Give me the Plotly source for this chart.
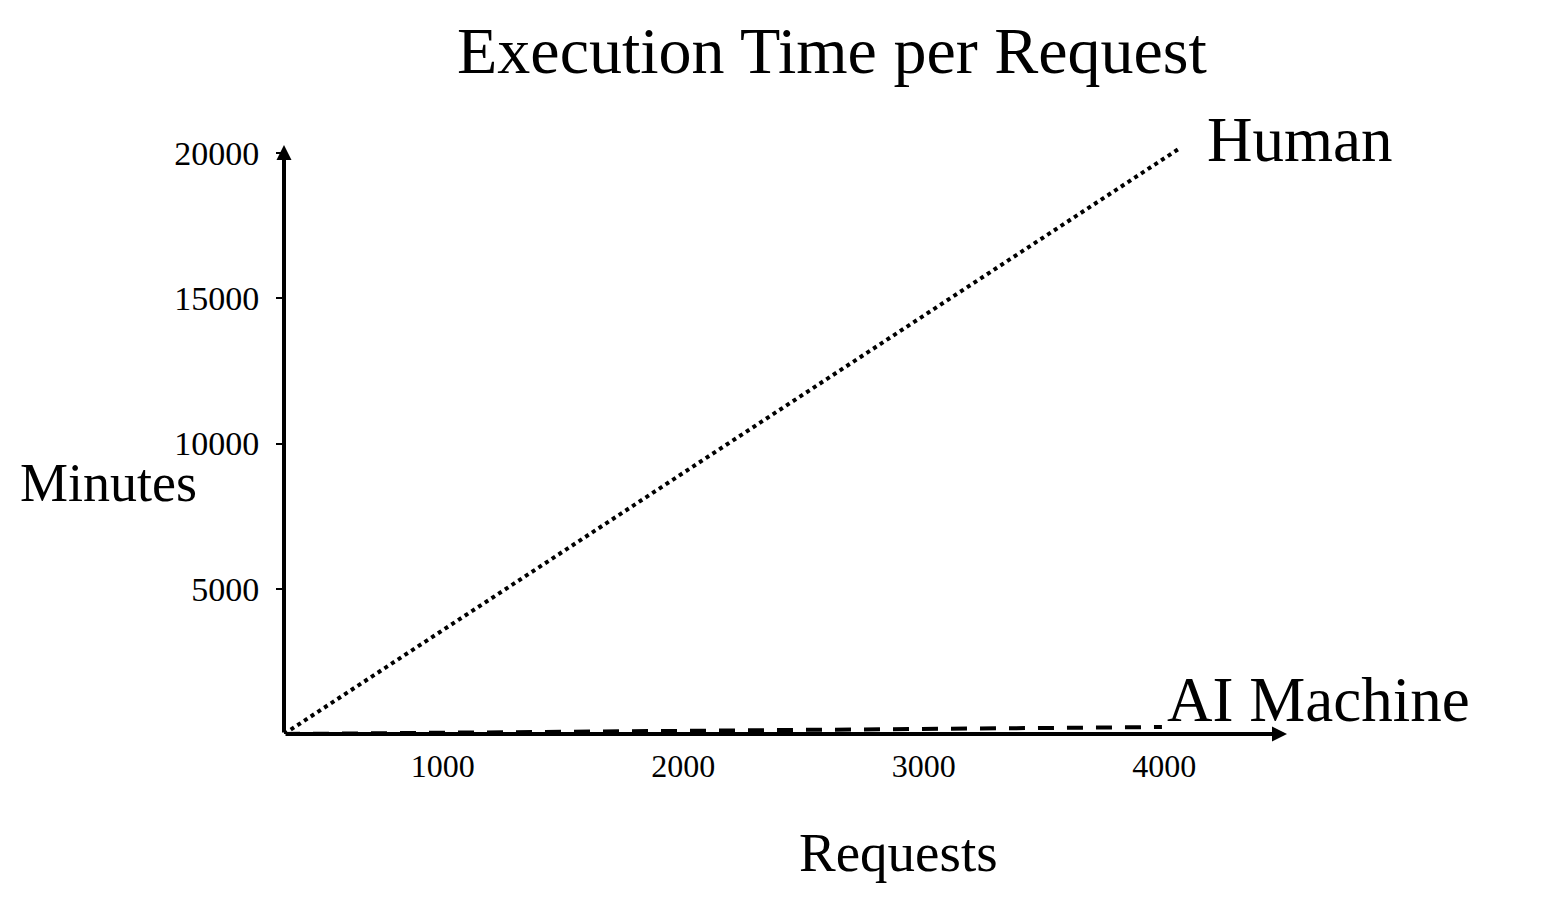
import plotly.graph_objects as go

# values
human_requests = [340, 4070]
human_minutes = [0, 20200]

ai_requests = [340, 3990]
ai_minutes = [0, 240]

x_ticks = [1000, 2000, 3000, 4000]
y_ticks = [5000, 10000, 15000, 20000]

x_range = [340, 4510]
y_range = [0, 20280]

FONT = "Liberation Serif, Times New Roman, serif"

fig = go.Figure()

fig.add_trace(
    go.Scatter(
        x=human_requests,
        y=human_minutes,
        mode="lines",
        line=dict(color="black", width=4, dash="4px,4px"),
        name="Human",
        showlegend=False,
        cliponaxis=False,
    )
)

fig.add_trace(
    go.Scatter(
        x=ai_requests,
        y=ai_minutes,
        mode="lines",
        line=dict(color="black", width=4, dash="16px,13px"),
        name="AI Machine",
        showlegend=False,
        cliponaxis=False,
    )
)

# axes drawn as arrows
axis_arrows = [
    dict(x=x_range[1], y=0, ax=x_range[0], ay=0),
    dict(x=x_range[0], y=y_range[1], ax=x_range[0], ay=0),
]
annotations = []
for a in axis_arrows:
    annotations.append(
        dict(
            **a,
            xref="x",
            yref="y",
            axref="x",
            ayref="y",
            text="",
            showarrow=True,
            arrowhead=2,
            arrowsize=0.75,
            arrowwidth=4,
            arrowcolor="black",
            standoff=0,
            startstandoff=0,
        )
    )

labels = [
    dict(text="Human", x=0.918, y=1.008, xanchor="left", size=63),
    dict(text="AI Machine", x=0.878, y=0.057, xanchor="left", size=63),
    dict(text="Minutes", x=-0.1745, y=0.426, xanchor="center", size=54),
    dict(text="Requests", x=0.613, y=-0.202, xanchor="center", size=55),
]
for lab in labels:
    annotations.append(
        dict(
            text=lab["text"],
            x=lab["x"],
            y=lab["y"],
            xref="paper",
            yref="paper",
            xanchor=lab["xanchor"],
            yanchor="middle",
            showarrow=False,
            font=dict(family=FONT, size=lab["size"], color="black"),
        )
    )

fig.update_layout(
    width=1554,
    height=912,
    autosize=False,
    margin=dict(l=276, r=275, t=137, b=186),
    paper_bgcolor="white",
    plot_bgcolor="white",
    title=dict(
        text="Execution Time per Request",
        x=0.5302,
        xanchor="center",
        y=0.954,
        yanchor="middle",
        font=dict(family=FONT, size=66, color="black"),
    ),
    annotations=annotations,
    font=dict(family=FONT, color="black"),
)

fig.update_xaxes(
    range=x_range,
    tickvals=x_ticks,
    ticktext=[str(v) for v in x_ticks],
    showgrid=False,
    zeroline=False,
    showline=False,
    ticks="",
    ticklabelstandoff=10,
    tickfont=dict(family=FONT, size=32, color="black"),
)

fig.update_yaxes(
    range=y_range,
    tickvals=y_ticks,
    ticktext=[str(v) for v in y_ticks],
    showgrid=False,
    zeroline=False,
    showline=False,
    ticks="outside",
    ticklen=7,
    tickwidth=2,
    tickcolor="black",
    ticklabelstandoff=10,
    tickfont=dict(family=FONT, size=34, color="black"),
)

fig.write_html("out.html")
